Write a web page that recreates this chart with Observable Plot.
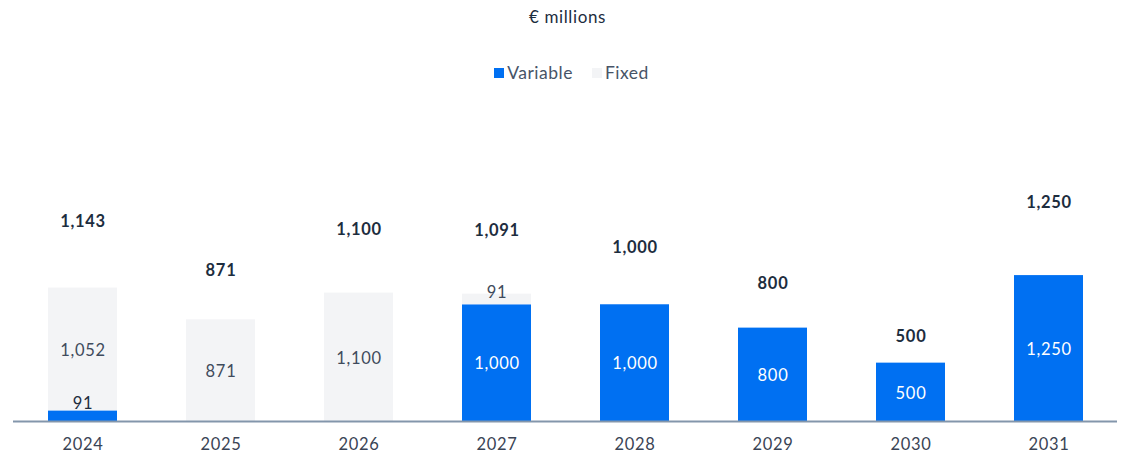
<!DOCTYPE html>
<html>
<head>
<meta charset="utf-8">
<script src="https://cdn.jsdelivr.net/npm/d3@7"></script>
<script src="https://cdn.jsdelivr.net/npm/@observablehq/plot@0.6"></script>
<style>
  body { margin: 0; background: #fff; font-family: Lato, "Open Sans", sans-serif; }
  #wrap { width: 1123px; }
  .title { height: 34px; line-height: 34px; text-align: center; padding-left: 12px; font-size: 17px; font-weight: 400; letter-spacing: 0.6px; color: #1d2d3e; }
  .legend { margin-top: 21px; padding-left: 20px; height: 36px; line-height: 36px; display: flex; justify-content: center; gap: 19px; font-size: 17.5px; font-weight: 400; letter-spacing: 0.5px; color: #475467; }
  .legend span.item { display: inline-flex; align-items: center; }
  .legend i { display: inline-block; width: 10px; height: 10px; margin-right: 3px; }
  .spacer { height: 9px; }
  svg text { font-family: Lato, "Open Sans", sans-serif; letter-spacing: 0.7px; }
</style>
</head>
<body>
<div id="wrap">
  <div class="title">€ millions</div>
  <div class="legend" id="legend"></div>
  <div class="spacer"></div>
  <div id="chart"></div>
</div>
<script>
// Maturity profile by year, € millions
const years = ["2024", "2025", "2026", "2027", "2028", "2029", "2030", "2031"];
const variable = [91, 0, 0, 1000, 1000, 800, 500, 1250];
const fixed = [1052, 871, 1100, 91, 0, 0, 0, 0];
const seriesNames = ["Variable", "Fixed"];
const seriesColors = ["#0070f2", "#f3f4f6"];

// Long table: Variable stacked below Fixed in every year
const rows = [];
years.forEach((year, i) => {
  rows.push({year, series: "Variable", value: variable[i]});
  rows.push({year, series: "Fixed", value: fixed[i]});
});
const bars = rows.filter(d => d.value > 0);
const totals = years.map((year, i) => ({year, total: variable[i] + fixed[i]}));

const fmt = d3.format(",");
const small = d => d.value < 150;

// Legend
const legend = document.getElementById("legend");
seriesNames.forEach((name, i) => {
  const item = document.createElement("span");
  item.className = "item";
  item.innerHTML = `<i style="background:${seriesColors[i]}"></i>${name}`;
  legend.appendChild(item);
});

const stackOpts = extra => Plot.stackY({x: "year", y: "value", z: "series", ...extra});

const chart = Plot.plot({
  width: 1123,
  height: 354,
  marginTop: 0,
  marginBottom: 33,
  marginLeft: 13,
  marginRight: 6,
  x: {domain: years, paddingInner: 0.5, paddingOuter: 0.25, label: null},
  y: {domain: [0, 2750], axis: null},
  color: {domain: seriesNames, range: seriesColors},
  marks: [
    Plot.barY(bars, stackOpts({fill: "series"})),
    // segment values, centred in each segment
    Plot.text(bars, stackOpts({
      text: d => small(d) ? "" : fmt(d.value),
      fill: d => d.series === "Variable" ? "#ffffff" : "#3f4b5c",
      fontSize: 16.5,
      dy: 1
    })),
    // thin segments carry their value just above the segment
    Plot.text(bars, stackOpts({
      text: d => small(d) && d.series === "Variable" ? fmt(d.value) : "",
      fill: "#1d2d3e",
      fontSize: 16.5,
      dy: -12
    })),
    Plot.text(bars, stackOpts({
      text: d => small(d) && d.series === "Fixed" ? fmt(d.value) : "",
      fill: "#3f4b5c",
      fontSize: 16.5,
      dy: -7
    })),
    // year totals above the bars
    Plot.text(totals, {
      x: "year",
      y: d => d.total * 1.534,
      text: d => fmt(d.total),
      fill: "#1d2d3e",
      fontWeight: "bold",
      fontSize: 16.5,
      dy: 5
    }),
    Plot.ruleY([0], {stroke: "#8396ab", strokeWidth: 2}),
    Plot.axisX({tickSize: 0, tickPadding: 17, fontSize: 16.5, color: "#3a4455", label: null})
  ]
});
document.getElementById("chart").appendChild(chart);
</script>
</body>
</html>
